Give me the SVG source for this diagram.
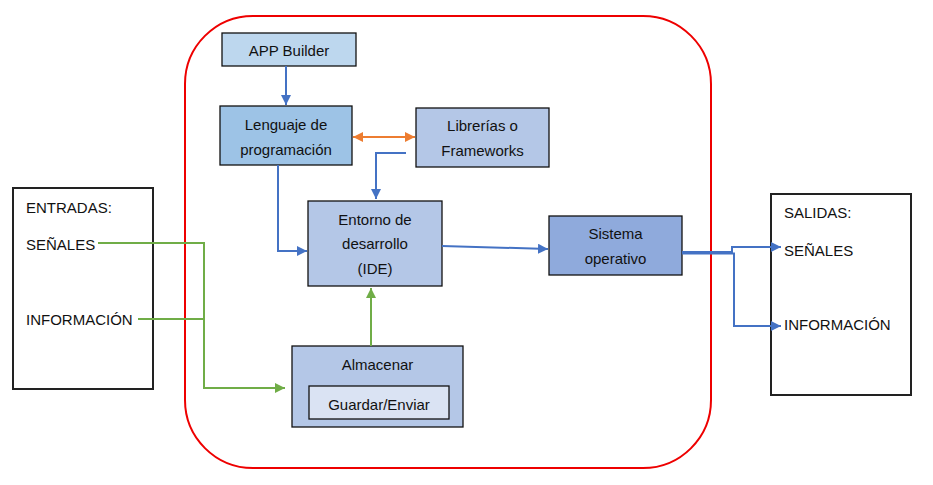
<svg xmlns="http://www.w3.org/2000/svg" width="933" height="485" viewBox="0 0 933 485">
<style>
text{font-family:"Liberation Sans",Arial,sans-serif;font-size:15px;fill:#111}
.c{text-anchor:middle}
.box{stroke:#111;stroke-width:1.3}
.io{fill:#fff;stroke:#222;stroke-width:2}
.b{fill:none;stroke:#4472C4;stroke-width:2}
.g{fill:none;stroke:#70AD47;stroke-width:2}
.o{fill:none;stroke:#ED7D31;stroke-width:2}
</style>
<defs>
<marker id="ab" viewBox="0 0 10 10" refX="10" refY="5" markerWidth="5" markerHeight="5" orient="auto-start-reverse" markerUnits="strokeWidth"><path d="M0,0L10,5L0,10z" fill="#4472C4"/></marker>
<marker id="ag" viewBox="0 0 10 10" refX="10" refY="5" markerWidth="5" markerHeight="5" orient="auto-start-reverse" markerUnits="strokeWidth"><path d="M0,0L10,5L0,10z" fill="#70AD47"/></marker>
<marker id="ao" viewBox="0 0 10 10" refX="10" refY="5" markerWidth="5" markerHeight="5" orient="auto-start-reverse" markerUnits="strokeWidth"><path d="M0,0L10,5L0,10z" fill="#ED7D31"/></marker>
</defs>
<rect width="933" height="485" fill="#fff"/>
<g id="system-boundary"><rect x="185" y="16" width="526" height="452" rx="68" ry="68" fill="none" stroke="#E00" stroke-width="2"/></g>
<g id="entradas">
<rect class="io" x="13" y="188" width="140" height="201"/>
<text x="26" y="213">ENTRADAS:</text>
<text x="26" y="250">SEÑALES</text>
<text x="26" y="325">INFORMACIÓN</text>
</g>
<g id="salidas">
<rect class="io" x="771" y="194" width="140" height="201"/>
<text x="784" y="218">SALIDAS:</text>
<text x="784" y="256">SEÑALES</text>
<text x="784" y="330">INFORMACIÓN</text>
</g>
<g id="app-builder">
<rect class="box" x="222" y="33" width="134" height="33" fill="#BDD7EE"/>
<text class="c" x="289" y="56">APP Builder</text>
</g>
<g id="lenguaje">
<rect class="box" x="220" y="106" width="132" height="59" fill="#9DC3E6"/>
<text class="c" x="286" y="130">Lenguaje de</text>
<text class="c" x="286" y="155">programación</text>
</g>
<g id="librerias">
<rect class="box" x="416" y="108" width="133" height="59" fill="#B4C7E7"/>
<text class="c" x="482.5" y="131">Librerías o</text>
<text class="c" x="482.5" y="156">Frameworks</text>
</g>
<g id="entorno">
<rect class="box" x="308" y="201" width="134" height="85" fill="#B4C7E7"/>
<text class="c" x="375" y="225">Entorno de</text>
<text class="c" x="375" y="249">desarrollo</text>
<text class="c" x="375" y="274">(IDE)</text>
</g>
<g id="sistema">
<rect class="box" x="549" y="216" width="133" height="59" fill="#8FAADC"/>
<text class="c" x="615.5" y="239">Sistema</text>
<text class="c" x="615.5" y="264">operativo</text>
</g>
<g id="almacenar">
<rect class="box" x="292" y="346" width="171" height="81" fill="#B4C7E7"/>
<text class="c" x="377.5" y="370">Almacenar</text>
<rect class="box" x="309" y="386" width="140" height="33" fill="#DAE3F3"/>
<text class="c" x="379" y="410">Guardar/Enviar</text>
</g>
<g id="connectors">
<path class="b" d="M286,66V105" marker-end="url(#ab)"/>
<path class="o" d="M353,137H415" marker-start="url(#ao)" marker-end="url(#ao)"/>
<path class="b" d="M406,153H376V199" marker-end="url(#ab)"/>
<path class="b" d="M278,165V251H307" marker-end="url(#ab)"/>
<path class="b" d="M442,246L548,249" marker-end="url(#ab)"/>
<path class="g" d="M371,346V288" marker-end="url(#ag)"/>
<path class="g" d="M98,243H204V388H285" marker-end="url(#ag)"/>
<path class="g" d="M138,319H204"/>
<path class="b" d="M682,252H732V247H781" marker-end="url(#ab)"/>
<path class="b" d="M682,253.5H734V326H781" marker-end="url(#ab)"/>
</g>
</svg>
